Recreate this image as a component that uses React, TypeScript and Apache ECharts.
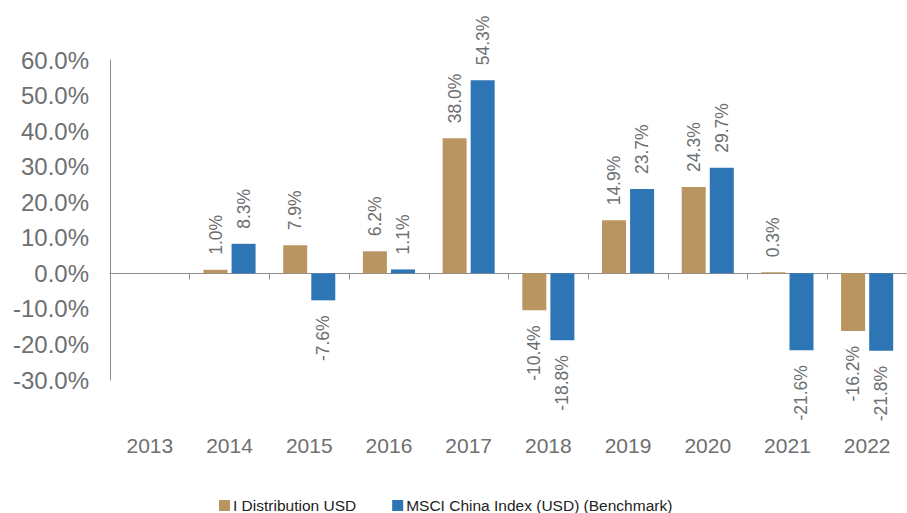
import React, { useEffect, useRef } from "react";
import * as echarts from "echarts";

const years = ["2013", "2014", "2015", "2016", "2017", "2018", "2019", "2020", "2021", "2022"];
const fundValues: (number | null)[] = [null, 1.0, 7.9, 6.2, 38.0, -10.4, 14.9, 24.3, 0.3, -16.2];
const benchValues: (number | null)[] = [null, 8.3, -7.6, 1.1, 54.3, -18.8, 23.7, 29.7, -21.6, -21.8];
const seriesNames = ["I Distribution USD", "MSCI China Index (USD) (Benchmark)"];
const colors = ["#B99562", "#2E75B6"];

const FONT = "'Liberation Sans', Arial, sans-serif";
const GRAY = "#6D6F71";

function toData(vals: (number | null)[]) {
  return vals.map((v) => {
    if (v === null) return null;
    if (v < 0) {
      return {
        value: v,
        label: { position: "bottom", align: "right" },
      };
    }
    return { value: v };
  });
}

export default function App() {
  const ref = useRef<HTMLDivElement>(null);
  useEffect(() => {
    if (!ref.current) return;
    const chart = echarts.init(ref.current, undefined, { renderer: "svg" });
    const barLabel = {
      show: true,
      position: "top",
      rotate: 90,
      align: "left",
      verticalAlign: "middle",
      distance: 15,
      fontSize: 17.5,
      fontFamily: FONT,
      color: GRAY,
      formatter: (p: any) => `${Number(p.value).toFixed(1)}%`,
    };
    chart.setOption({
      animation: false,
      grid: { left: 110, right: 0, top: 60, bottom: 133, containLabel: false },
      legend: {
        left: 219,
        top: 497,
        padding: 0,
        itemWidth: 11,
        itemHeight: 11,
        itemGap: 36,
        icon: "rect",
        textStyle: { fontFamily: FONT, fontSize: 15.5, lineHeight: 17, color: "#222", padding: [0, 0, 0, -2] },
        data: seriesNames,
      },
      xAxis: [
        {
          type: "category",
          data: years,
          position: "bottom",
          axisLine: { show: false, onZero: false },
          axisTick: { show: false },
          axisLabel: { margin: 55, fontSize: 21, fontFamily: FONT, color: GRAY },
          splitLine: { show: false },
        },
        {
          type: "category",
          data: years,
          position: "bottom",
          axisLine: { show: true, onZero: true, lineStyle: { color: "#8C8C8C", width: 1 } },
          axisTick: { show: true, length: 6, lineStyle: { color: "#8C8C8C" } },
          axisLabel: { show: false },
          splitLine: { show: false },
        },
      ],
      yAxis: {
        type: "value",
        min: -30,
        max: 60,
        interval: 10,
        axisLine: { show: true, lineStyle: { color: "#8C8C8C", width: 1 } },
        axisTick: { show: false },
        splitLine: { show: false },
        axisLabel: {
          margin: 21,
          fontSize: 24,
          fontFamily: FONT,
          color: GRAY,
          formatter: (v: number) => `${v.toFixed(1)}%`,
        },
      },
      series: [
        {
          name: seriesNames[0],
          type: "bar",
          xAxisIndex: 0,
          data: toData(fundValues),
          barWidth: 24,
          barGap: "17%",
          itemStyle: { color: colors[0] },
          label: barLabel,
        },
        {
          name: seriesNames[1],
          type: "bar",
          xAxisIndex: 0,
          data: toData(benchValues),
          barWidth: 24,
          barGap: "17%",
          itemStyle: { color: colors[1] },
          label: barLabel,
        },
      ],
    });
    return () => chart.dispose();
  }, []);
  return (
    <div
      ref={ref}
      style={{ position: "fixed", left: 0, top: 0, width: 907, height: 513, background: "#fff" }}
    />
  );
}
